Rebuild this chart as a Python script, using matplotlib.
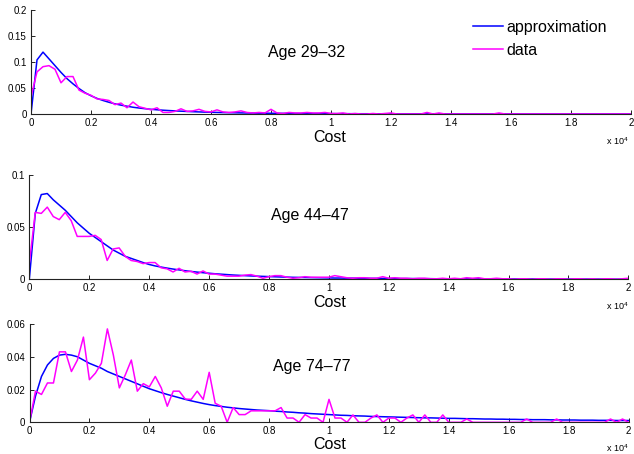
import numpy as np
import matplotlib
matplotlib.use("Agg")
import matplotlib.pyplot as plt
from matplotlib.ticker import FuncFormatter

plt.rcParams["font.family"] = ["Liberation Sans", "DejaVu Sans"]
plt.rcParams["mathtext.default"] = "regular"

# cost grid: bins of 200 from 0 to 20000
cost = np.arange(0, 20001, 200)

# ---- Age 29-32 ----
approx_29_32 = [
    0, 0.104, 0.119, 0.106, 0.093, 0.080, 0.068, 0.058, 0.049, 0.041,
    0.035, 0.030, 0.026, 0.0225, 0.0195, 0.017, 0.015, 0.013, 0.0115, 0.0102,
    0.0090, 0.0081, 0.0073, 0.0066, 0.0060, 0.0054, 0.0049, 0.0044, 0.0040, 0.0036,
    0.0033, 0.0030, 0.0027, 0.0025, 0.0023, 0.0021, 0.0019, 0.0017, 0.0016, 0.0015,
    0.0014, 0.0013, 0.0012, 0.0011, 0.0010, 0.0009, 0.0009, 0.0008, 0.0008, 0.0007,
    0.0007, 0.0006, 0.0006, 0.0006, 0.0005, 0.0005, 0.0005, 0.0004, 0.0004, 0.0004,
    0.0004, 0.0003, 0.0003, 0.0003, 0.0003, 0.0003, 0.0003, 0.0002, 0.0002, 0.0002,
    0.0002, 0.0002, 0.0002, 0.0002, 0.0002, 0.0002, 0.0002, 0.0002, 0.0002, 0.0002,
    0.0002, 0.0002, 0.0001, 0.0001, 0.0001, 0.0001, 0.0001, 0.0001, 0.0001, 0.0001,
    0.0001, 0.0001, 0.0001, 0.0001, 0.0001, 0.0001, 0.0001, 0.0001, 0.0001, 0.0001,
    0.0001,
]
data_29_32 = [
    0.033, 0.081, 0.091, 0.093, 0.086, 0.060, 0.072, 0.072, 0.046, 0.040,
    0.036, 0.029, 0.028, 0.026, 0.018, 0.021, 0.012, 0.023, 0.014, 0.011,
    0.008, 0.012, 0.003, 0.003, 0.005, 0.010, 0.005, 0.006, 0.009, 0.005,
    0.004, 0.008, 0.004, 0.003, 0.004, 0.006, 0.003, 0.002, 0.003, 0.002,
    0.009, 0.002, 0.001, 0.003, 0.002, 0.002, 0.003, 0.002, 0.002, 0.003,
    0.001, 0.001, 0.002, 0, 0.001, 0, 0, 0.001, 0, 0.001,
    0.002, 0, 0, 0, 0, 0, 0.003, 0, 0.002, 0,
    0, 0, 0, 0, 0, 0, 0, 0, 0.002, 0,
    0, 0, 0, 0, 0, 0, 0, 0, 0, 0,
    0, 0, 0, 0, 0, 0, 0, 0, 0, 0,
    0,
]

# ---- Age 44-47 ----
approx_44_47 = [
    0, 0.063, 0.081, 0.082, 0.076, 0.071, 0.066, 0.060, 0.054, 0.049,
    0.044, 0.040, 0.036, 0.032, 0.028, 0.025, 0.022, 0.020, 0.018, 0.016,
    0.0142, 0.0128, 0.0117, 0.0107, 0.0098, 0.0090, 0.0082, 0.0075, 0.0069, 0.0063,
    0.0058, 0.0053, 0.0049, 0.0045, 0.0041, 0.0038, 0.0035, 0.0032, 0.0030, 0.0028,
    0.0026, 0.0024, 0.0022, 0.0021, 0.0019, 0.0018, 0.0017, 0.0016, 0.0015, 0.0014,
    0.0013, 0.0012, 0.0012, 0.0011, 0.0011, 0.0010, 0.0010, 0.0009, 0.0009, 0.0008,
    0.0008, 0.0008, 0.0007, 0.0007, 0.0007, 0.0006, 0.0006, 0.0006, 0.0005, 0.0005,
    0.0005, 0.0005, 0.0004, 0.0004, 0.0004, 0.0004, 0.0004, 0.0003, 0.0003, 0.0003,
    0.0003, 0.0003, 0.0003, 0.0003, 0.0003, 0.0002, 0.0002, 0.0002, 0.0002, 0.0002,
    0.0002, 0.0002, 0.0002, 0.0002, 0.0002, 0.0002, 0.0001, 0.0001, 0.0001, 0.0001,
    0.0001,
]
data_44_47 = [
    0.015, 0.064, 0.063, 0.069, 0.060, 0.057, 0.064, 0.056, 0.041, 0.041,
    0.041, 0.042, 0.038, 0.018, 0.029, 0.030, 0.022, 0.018, 0.017, 0.015,
    0.016, 0.016, 0.011, 0.010, 0.007, 0.0105, 0.007, 0.0077, 0.005, 0.008,
    0.005, 0.005, 0.004, 0.003, 0.003, 0.003, 0.004, 0.0045, 0.003, 0.001,
    0.0025, 0.0035, 0.0035, 0.002, 0.001, 0.0015, 0.0025, 0.002, 0.002, 0.002,
    0.002, 0.0035, 0.0025, 0.0015, 0.001, 0.0015, 0.0015, 0.001, 0.001, 0.0025,
    0.001, 0.0015, 0.001, 0.001, 0.0005, 0.001, 0.001, 0.0005, 0.0005, 0.001,
    0.0005, 0.001, 0.0005, 0.0015, 0.001, 0.0015, 0.0005, 0.0005, 0.001, 0.0005,
    0.0005, 0, 0.0005, 0.0005, 0, 0.0005, 0.0005, 0, 0.0005, 0.0005,
    0, 0.0005, 0.0005, 0, 0.0005, 0, 0.0005, 0.0005, 0, 0.0005,
    0.001,
]

# ---- Age 74-77 ----
approx_74_77 = [
    0, 0.016, 0.028, 0.035, 0.039, 0.041, 0.0415, 0.041, 0.040, 0.038,
    0.036, 0.0345, 0.033, 0.031, 0.0295, 0.028, 0.0265, 0.025, 0.0235, 0.022,
    0.0205, 0.0193, 0.0181, 0.017, 0.016, 0.015, 0.014, 0.0131, 0.0123, 0.0115,
    0.0108, 0.0102, 0.0097, 0.0092, 0.0088, 0.0084, 0.0081, 0.0078, 0.0075, 0.0073,
    0.0071, 0.0068, 0.0066, 0.0063, 0.0061, 0.0058, 0.0056, 0.0053, 0.0051, 0.0049,
    0.0047, 0.0045, 0.0043, 0.0042, 0.0040, 0.0039, 0.0038, 0.0036, 0.0035, 0.0034,
    0.0033, 0.0032, 0.0031, 0.0030, 0.0029, 0.0028, 0.0027, 0.0027, 0.0026, 0.0025,
    0.0024, 0.0024, 0.0023, 0.0022, 0.0022, 0.0021, 0.0020, 0.0020, 0.0019, 0.0019,
    0.0018, 0.0018, 0.0017, 0.0017, 0.0016, 0.0016, 0.0016, 0.0015, 0.0015, 0.0014,
    0.0014, 0.0014, 0.0013, 0.0013, 0.0013, 0.0012, 0.0012, 0.0012, 0.0011, 0.0011,
    0.0011,
]
data_74_77 = [
    0, 0.019, 0.017, 0.024, 0.024, 0.043, 0.043, 0.031, 0.038, 0.052,
    0.026, 0.030, 0.036, 0.057, 0.041, 0.021, 0.029, 0.038, 0.019, 0.0236,
    0.0216, 0.028, 0.021, 0.0098, 0.019, 0.019, 0.0142, 0.014, 0.019, 0.014,
    0.0305, 0.0116, 0.0098, 0, 0.009, 0.0047, 0.0047, 0.007, 0.007, 0.007,
    0.007, 0.007, 0.009, 0.0026, 0.0026, 0, 0.0047, 0.0026, 0.0026, 0,
    0.014, 0.0026, 0.0026, 0, 0.0045, 0, 0, 0.0026, 0.0045, 0,
    0.0026, 0.0026, 0, 0.0026, 0.0045, 0, 0.0045, 0, 0, 0.0045,
    0, 0, 0, 0.002, 0, 0, 0, 0, 0, 0,
    0, 0, 0, 0.002, 0, 0, 0, 0, 0.002, 0,
    0, 0, 0, 0, 0, 0, 0, 0.002, 0, 0.002,
    0,
]

panel_labels = ["Age 29\u201332", "Age 44\u201347", "Age 74\u201377"]
approx_series = [approx_29_32, approx_44_47, approx_74_77]
data_series = [data_29_32, data_44_47, data_74_77]
y_limits = [0.2, 0.1, 0.06]
y_ticks = [[0, 0.05, 0.1, 0.15, 0.2], [0, 0.05, 0.1], [0, 0.02, 0.04, 0.06]]
x_ticks = np.arange(0, 20001, 2000)

W, H = 634, 454
fig = plt.figure(figsize=(W / 100, H / 100), dpi=100)

# axes rectangles in pixels: left, bottom(y from top), right, top(y from top)
rects_px = [(31, 114, 631, 10), (29.3, 279.3, 628.3, 174.7), (29.5, 422.3, 628.5, 324)]
label_pos = [(268, 57), (270.7, 220), (272.7, 371)]
cost_base = [142, 307, 449]

blue = (0, 0, 1)
magenta = (1, 0, 1)

for i in range(3):
    l, b, r, t = rects_px[i]
    ax = fig.add_axes([l / W, 1 - b / H, (r - l) / W, (b - t) / H])
    ax.plot(cost, approx_series[i], color=blue, lw=1.1, label="approximation")
    ax.plot(cost, data_series[i], color=magenta, lw=1.1, label="data")
    ax.set_xlim(0, 20000)
    ax.set_ylim(0, y_limits[i])
    ax.set_xticks(x_ticks)
    ax.set_yticks(y_ticks[i])
    ax.xaxis.set_major_formatter(FuncFormatter(lambda v, p: f"{v / 1e4:g}"))
    ax.yaxis.set_major_formatter(FuncFormatter(lambda v, p: f"{v:g}"))
    for s in ("top", "right"):
        ax.spines[s].set_visible(False)
    for s in ("left", "bottom"):
        ax.spines[s].set_linewidth(0.8)
        ax.spines[s].set_color("#222222")
    ax.tick_params(direction="in", length=3, width=0.6, labelsize=7.0, pad=3)
    ax.patch.set_visible(False)

    fig.text(label_pos[i][0] / W, 1 - label_pos[i][1] / H, panel_labels[i],
             ha="left", va="baseline", fontsize=11.5)
    fig.text(330 / W, 1 - cost_base[i] / H, "Cost", ha="center", va="baseline",
             fontsize=11.5)
    fig.text(606 / W, 1 - (cost_base[i] + 3) / H, r"x 10$^{4}$", ha="left",
             va="baseline", fontsize=6.5)

    if i == 0:
        ax.legend(loc="upper left", bbox_to_anchor=(473 / W, 1 - 20 / H),
                  bbox_transform=fig.transFigure, frameon=False, fontsize=11.5,
                  handlelength=1.9, handletextpad=0.2, labelspacing=0.5,
                  borderpad=0, borderaxespad=0)

fig.savefig("out.png", dpi=100)
